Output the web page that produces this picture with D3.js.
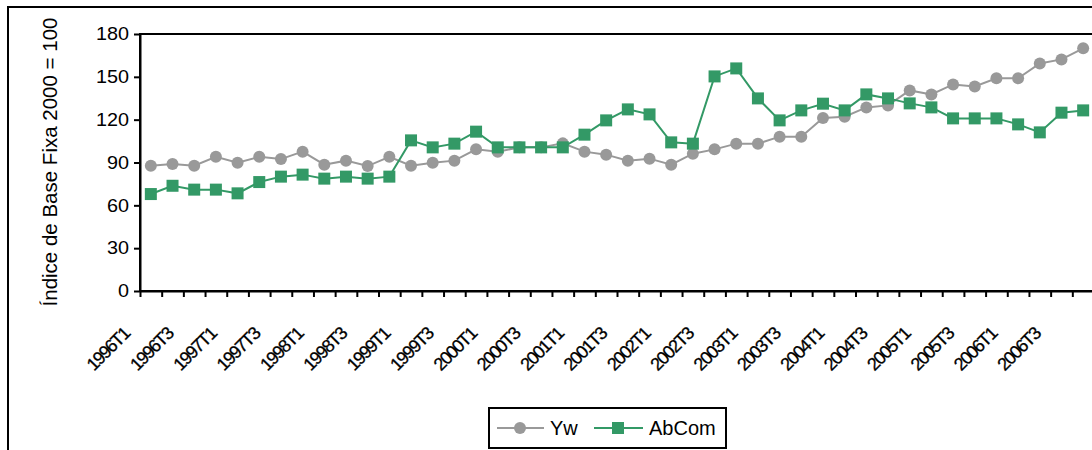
<!DOCTYPE html>
<html>
<head>
<meta charset="utf-8">
<script src="https://cdn.jsdelivr.net/npm/d3@7"></script>
<style>
  body { margin: 0; background: #fff; }
  svg { font-family: "Liberation Sans", Arial, sans-serif; }
</style>
</head>
<body>
<svg class="chart" width="1092" height="450"></svg>
<script>
var categories = ["1996T1","1996T2","1996T3","1996T4","1997T1","1997T2","1997T3","1997T4",
  "1998T1","1998T2","1998T3","1998T4","1999T1","1999T2","1999T3","1999T4",
  "2000T1","2000T2","2000T3","2000T4","2001T1","2001T2","2001T3","2001T4",
  "2002T1","2002T2","2002T3","2002T4","2003T1","2003T2","2003T3","2003T4",
  "2004T1","2004T2","2004T3","2004T4","2005T1","2005T2","2005T3","2005T4",
  "2006T1","2006T2","2006T3","2006T4"];

var yw = [87.7, 88.9, 87.7, 94.0, 89.9, 94.0, 92.4, 97.6, 88.5, 91.3,
  87.5, 94.0, 87.7, 89.9, 91.3, 99.2, 97.6, 100.6, 100.6, 103.4,
  97.6, 95.5, 91.3, 92.7, 88.5, 96.2, 99.2, 103.2, 103.2, 108.1,
  108.1, 121.2, 122.1, 128.6, 130.0, 140.5, 137.7, 144.7, 143.3, 149.0,
  149.0, 159.4, 162.2, 170.0];

var abCom = [67.9, 73.7, 71.0, 71.0, 68.4, 76.3, 80.1, 81.5, 78.7, 80.1,
  78.7, 80.1, 105.5, 100.6, 103.2, 111.6, 100.6, 100.6, 100.6, 100.6,
  109.5, 119.5, 127.2, 123.7, 104.1, 103.2, 150.3, 155.9, 134.9, 119.5,
  126.5, 131.2, 126.5, 137.7, 134.9, 131.4, 128.6, 120.9, 120.9, 120.9,
  116.7, 111.1, 124.9, 126.5];

var yTicks = [0, 30, 60, 90, 120, 150, 180];

var svg = d3.select(".chart"),
    plot = {left: 140, right: 1094, top: 34, bottom: 291};

// outer chart border
svg.append("rect")
    .attr("x", 8).attr("y", 7)
    .attr("width", 1100).attr("height", 470)
    .attr("fill", "none").attr("stroke", "#000").attr("stroke-width", 2);

var x = d3.scaleBand().domain(categories).range([plot.left, plot.right]);
var xEdge = d3.scaleLinear().domain([0, categories.length]).range([plot.left, plot.right]);
var y = d3.scaleLinear().domain([0, 180]).range([plot.bottom, plot.top]);

// plot area border
svg.append("rect")
    .attr("x", plot.left).attr("y", plot.top)
    .attr("width", plot.right - plot.left).attr("height", plot.bottom - plot.top)
    .attr("fill", "none").attr("stroke", "#000").attr("stroke-width", 2);

var yAxis = svg.append("g")
    .attr("transform", "translate(" + plot.left + ",0)")
    .call(d3.axisLeft(y).tickValues(yTicks).tickSize(6).tickPadding(5).tickSizeOuter(0));
yAxis.select(".domain").attr("stroke-width", 2);
yAxis.selectAll(".tick line").attr("stroke-width", 2);
yAxis.selectAll("text").style("font-size", "18px").attr("fill", "#000")
    .attr("transform", "scale(1.1,1)").attr("x", -11 / 1.1);

var xAxis = svg.append("g")
    .attr("transform", "translate(0," + plot.bottom + ")")
    .call(d3.axisBottom(xEdge).tickValues(d3.range(categories.length + 1))
      .tickSize(6).tickSizeOuter(0).tickFormat(""));
xAxis.select(".domain").attr("stroke-width", 2);
xAxis.selectAll(".tick line").attr("stroke-width", 2);

// rotated category labels, every second quarter
svg.append("g").selectAll("text")
    .data(categories.filter(function(d, i) { return i % 2 == 0; }))
  .enter().append("text")
    .attr("text-anchor", "end")
    .attr("transform", function(d) {
      return "translate(" + (x(d) + x.bandwidth() / 2 - 20) + ",335) rotate(-45)";
    })
    .style("font-size", "18px")
    .style("letter-spacing", "-1.5px")
    .attr("stroke", "#000").attr("stroke-width", 0.3)
    .text(function(d) { return d; });

// y axis title
svg.append("text")
    .attr("transform", "translate(57,162) rotate(-90)")
    .attr("text-anchor", "middle")
    .style("font-size", "20.5px")
    .text("Índice de Base Fixa 2000 = 100");

var line = function(vals) {
  return d3.line()
    .x(function(d, i) { return x(categories[i]) + x.bandwidth() / 2; })
    .y(function(d) { return y(d); })(vals);
};

var grey = "#999999", green = "#339966";

svg.append("path").attr("d", line(yw))
    .attr("fill", "none").attr("stroke", grey).attr("stroke-width", 2);
svg.append("g").selectAll("circle")
    .data(yw)
  .enter().append("circle")
    .attr("cx", function(d, i) { return x(categories[i]) + x.bandwidth() / 2; })
    .attr("cy", function(d) { return y(d); })
    .attr("r", 6)
    .attr("fill", grey);

svg.append("path").attr("d", line(abCom))
    .attr("fill", "none").attr("stroke", green).attr("stroke-width", 2);
svg.append("g").selectAll("rect")
    .data(abCom)
  .enter().append("rect")
    .attr("x", function(d, i) { return x(categories[i]) + x.bandwidth() / 2 - 6; })
    .attr("y", function(d) { return y(d) - 6; })
    .attr("width", 12).attr("height", 12)
    .attr("fill", green);

// legend
var lg = svg.append("g");
lg.append("rect")
    .attr("x", 489).attr("y", 408).attr("width", 237).attr("height", 40)
    .attr("fill", "#fff").attr("stroke", "#000").attr("stroke-width", 2);
lg.append("line").attr("x1", 497).attr("x2", 544).attr("y1", 428).attr("y2", 428)
    .attr("stroke", grey).attr("stroke-width", 2);
lg.append("circle").attr("cx", 520).attr("cy", 428).attr("r", 6).attr("fill", grey);
lg.append("text").attr("x", 550).attr("y", 435).style("font-size", "20px").text("Yw");
lg.append("line").attr("x1", 594).attr("x2", 643).attr("y1", 428).attr("y2", 428)
    .attr("stroke", green).attr("stroke-width", 2);
lg.append("rect").attr("x", 612).attr("y", 422).attr("width", 12).attr("height", 12).attr("fill", green);
lg.append("text").attr("x", 649).attr("y", 435).style("font-size", "20px").text("AbCom");
</script>
</body>
</html>
